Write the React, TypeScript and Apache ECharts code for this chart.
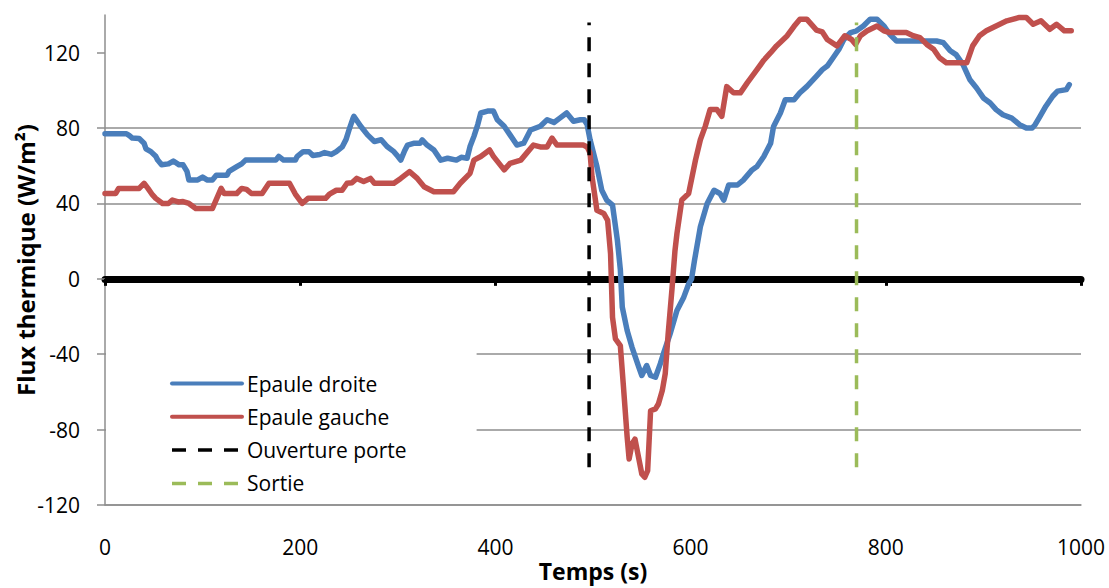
import React, { useEffect, useRef } from 'react';
import * as echarts from 'echarts';

// Epaule droite (blue)
const blueTime = [0, 10, 22, 25, 28, 35, 40, 42, 47, 52, 54, 58, 65, 70, 76, 80, 84, 86, 95, 100, 105, 110, 114, 125, 127, 135, 140, 144, 160, 175, 178, 183, 195, 197, 203, 209, 213, 220, 225, 232, 237, 243, 247, 250, 254, 255, 258, 262, 269, 276, 283, 289, 296, 300, 303, 307, 310, 317, 323, 325, 330, 337, 344, 351, 360, 365, 371, 374, 378, 382, 385, 392, 398, 402, 409, 415, 422, 429, 436, 446, 453, 460, 466, 473, 480, 487, 491, 494, 497, 504, 509, 514, 520, 525, 528, 530, 535, 540, 547, 550, 555, 559, 564, 569, 572, 579, 586, 593, 598, 601, 604, 610, 617, 624, 630, 634, 639, 648, 654, 663, 668, 675, 682, 685, 692, 697, 706, 712, 719, 729, 735, 740, 746, 752, 757, 764, 770, 777, 784, 791, 798, 804, 811, 830, 852, 859, 866, 872, 879, 886, 893, 900, 907, 913, 920, 929, 937, 944, 950, 953, 958, 964, 971, 976, 985, 988];
const blueFlux = [77, 77, 77, 76, 74.7, 74.5, 72, 69, 67.5, 65, 63, 60.5, 61, 62.5, 60.5, 60.5, 57, 52.4, 52.5, 54, 52.4, 52.5, 55, 55, 57, 59.5, 61, 63, 63, 63, 65, 63, 63, 65, 67.5, 67.5, 65.5, 66, 67, 66, 67.5, 70, 74, 79, 85, 86.2, 84, 81, 76.4, 72.9, 73.8, 70.2, 67.5, 65, 63, 68, 71, 72, 72, 73.8, 71, 68.4, 63, 64, 63, 64.5, 64, 70.2, 75.6, 82, 88, 89, 89, 84.4, 81, 76.4, 71, 72, 79, 81, 84.4, 83, 85.3, 88, 83.6, 84.4, 84.4, 81.8, 73.8, 59.6, 47, 41.8, 39.1, 20.4, 5, -15, -27.4, -36.3, -47, -51.3, -46, -51.3, -52.2, -45, -40, -29.2, -16.8, -9.7, -2.7, 0, 9.8, 27.6, 40, 47, 45.3, 41.8, 49.8, 49.8, 52.4, 57.8, 59.6, 64.9, 72, 80.9, 88, 95, 95, 98.7, 102, 107.6, 111, 112.9, 117.3, 121.8, 127, 130.7, 131.6, 134.2, 137.8, 137.8, 134.2, 129.8, 126.2, 126.2, 126.2, 125.3, 121, 119, 113.8, 105.8, 101.3, 96, 93.3, 89.8, 87.1, 85.3, 81.8, 80, 80, 81.8, 86.2, 91.6, 96.9, 99.6, 100.4, 103.1];

// Epaule gauche (red)
const redTime = [0, 11, 14, 35, 40, 44, 48, 52, 59, 65, 69, 75, 80, 86, 93, 110, 114, 119, 122, 135, 140, 145, 150, 161, 168, 189, 195, 202, 208, 226, 230, 237, 243, 248, 253, 258, 265, 272, 276, 296, 303, 312, 320, 327, 337, 357, 364, 374, 378, 385, 394, 398, 409, 415, 426, 432, 439, 446, 453, 458, 463, 490, 494, 497, 499, 504, 511, 515, 518, 520, 523, 528, 531, 535, 537, 540, 543, 547, 550, 553, 556, 559, 564, 567, 571, 574, 577, 581, 584, 586, 591, 598, 605, 610, 615, 620, 627, 632, 637, 644, 651, 658, 668, 675, 682, 688, 699, 706, 712, 719, 729, 735, 740, 750, 758, 765, 769, 774, 781, 791, 798, 804, 821, 828, 835, 842, 849, 855, 862, 883, 889, 896, 903, 913, 924, 937, 944, 951, 959, 968, 975, 983, 990];
const redFlux = [45.3, 45.3, 48, 48, 50.7, 48, 45, 42.7, 40, 40, 41.8, 40.8, 41, 40, 37.3, 37.3, 42, 48, 45.3, 45.3, 48, 47.5, 45.3, 45.3, 50.7, 50.7, 45, 40, 42.7, 42.7, 45, 47, 47, 50.7, 51, 53.3, 51.6, 53.3, 50.7, 50.7, 53.3, 56.9, 53.3, 48.9, 46.2, 46.2, 50.7, 56, 63, 64.9, 68.4, 65, 57.8, 61.3, 63, 66.7, 71, 70, 70, 74.7, 71, 71, 70, 66.7, 54.2, 36.4, 34.7, 31, 13.3, -20.4, -31.9, -35.4, -55.8, -84, -95.6, -87.6, -85, -95.6, -103.5, -105.3, -101.8, -70, -69, -66.4, -59.3, -50.4, -29.2, -5, 15, 24, 41.8, 45.3, 63, 73.8, 80.9, 89.8, 89.8, 86.2, 102, 98.7, 98.7, 104, 111, 116, 120, 123.6, 129, 134, 137.8, 137.8, 132, 131, 127, 123.6, 129, 127, 124.4, 129, 131.6, 134.2, 131.6, 130.7, 130.7, 129, 128, 124.4, 121.8, 117.3, 114.7, 114.7, 123.6, 129, 131.6, 134.2, 136.9, 138.7, 138.7, 135.1, 136.9, 132.4, 135.1, 131.6, 131.6];

// Vertical markers
const doorTime = [496, 496];
const doorFlux = [-100, 136];
const exitTime = [770, 770];
const exitFlux = [-100, 136];

const seriesNames = ['Epaule droite', 'Epaule gauche', 'Ouverture porte', 'Sortie'];
const yTickValues = [-120, -80, -40, 0, 40, 80, 120];
const xTickValues = [0, 200, 400, 600, 800, 1000];

const FONT = "'Open Sans', 'Noto Sans', sans-serif";
const GRID_COLOR = '#8e8e8e';
const BLUE = '#4a7ebb';
const RED = '#c0504d';
const GREEN = '#9bbb59';
const DASH = [14, 12];

const pairs = (t: number[], v: number[]) => t.map((x, i) => [x, v[i]]);

export default function App() {
  const ref = useRef<HTMLDivElement>(null);
  useEffect(() => {
    if (!ref.current) return;
    const chart = echarts.init(ref.current, null, { renderer: 'svg' });
    const hidden = { opacity: 0 };
    chart.setOption({
      animation: false,
      grid: { left: 105, right: 28, top: 15, bottom: 83, containLabel: false, outerBoundsMode: 'none' },
      legend: {
        data: [
          { name: seriesNames[0], itemStyle: hidden, lineStyle: { color: BLUE, width: 4, cap: 'round' } },
          { name: seriesNames[1], itemStyle: hidden, lineStyle: { color: RED, width: 4, cap: 'round' } },
          { name: seriesNames[2], itemStyle: hidden, lineStyle: { color: '#000', width: 3.5, type: DASH } },
          { name: seriesNames[3], itemStyle: hidden, lineStyle: { color: GREEN, width: 3.5, type: DASH } },
        ],
        orient: 'vertical',
        left: 106,
        top: 345,
        backgroundColor: '#ffffff',
        padding: [28, 70, 8, 64],
        itemWidth: 70,
        itemHeight: 14,
        itemGap: 12.3,
        itemStyle: hidden,
        textStyle: { fontFamily: FONT, fontSize: 21, color: '#000', lineHeight: 21 },
      },
      xAxis: [
        {
          type: 'value', min: 0, max: 1000, interval: 200, position: 'bottom',
          axisLine: { onZero: false, lineStyle: { color: GRID_COLOR, width: 1.5 } },
          axisTick: { show: false },
          splitLine: { show: false },
          axisLabel: {
            margin: 31, fontSize: 21, fontFamily: FONT, color: '#000', customValues: xTickValues,
            formatter: (v: number) => String(v),
          },
          name: 'Temps (s)', nameLocation: 'middle', nameGap: 54, nameMoveOverlap: false,
          nameTextStyle: { fontFamily: FONT, fontWeight: 'bold', fontSize: 23, color: '#000' },
        },
        {
          type: 'value', min: 0, max: 1000, interval: 200, position: 'bottom',
          axisLine: { onZero: true, lineStyle: { color: '#000', width: 7 } },
          axisTick: { show: true, length: 7, lineStyle: { color: '#000', width: 3 } },
          axisLabel: { show: false },
          splitLine: { show: false },
        },
      ],
      yAxis: {
        type: 'value', min: -120, max: 140, interval: 40,
        axisLine: { show: true, lineStyle: { color: GRID_COLOR, width: 1.5 } },
        axisTick: { show: true, length: 8, lineStyle: { color: GRID_COLOR, width: 1.5 }, customValues: yTickValues },
        axisLabel: {
          margin: 25, fontSize: 21, fontFamily: FONT, color: '#000', customValues: yTickValues,
          formatter: (v: number) => (v === 140 ? '' : String(v)),
        },
        splitLine: { show: true, showMaxLine: false, lineStyle: { color: GRID_COLOR, width: 1.5 } },
        name: 'Flux thermique (W/m²)', nameLocation: 'middle', nameGap: 68, nameMoveOverlap: false,
        nameTextStyle: { fontFamily: FONT, fontWeight: 'bold', fontSize: 24, color: '#000' },
      },
      series: [
        {
          name: seriesNames[0], type: 'line', xAxisIndex: 0, symbol: 'none',
          data: pairs(blueTime, blueFlux),
          lineStyle: { color: BLUE, width: 5.5, cap: 'round', join: 'round' },
          itemStyle: { color: BLUE },
        },
        {
          name: seriesNames[1], type: 'line', xAxisIndex: 0, symbol: 'none',
          data: pairs(redTime, redFlux),
          lineStyle: { color: RED, width: 5.5, cap: 'round', join: 'round' },
          itemStyle: { color: RED },
        },
        {
          name: seriesNames[2], type: 'line', xAxisIndex: 0, symbol: 'none',
          data: pairs(doorTime, doorFlux),
          lineStyle: { color: '#000', width: 3.5, type: DASH },
          itemStyle: { color: '#000' },
        },
        {
          name: seriesNames[3], type: 'line', xAxisIndex: 0, symbol: 'none',
          data: pairs(exitTime, exitFlux),
          lineStyle: { color: GREEN, width: 3.5, type: DASH },
          itemStyle: { color: GREEN },
        },
      ],
    });
    return () => chart.dispose();
  }, []);
  return <div ref={ref} style={{ position: 'fixed', left: 0, top: 0, width: 1109, height: 588, background: '#fff' }} />;
}
